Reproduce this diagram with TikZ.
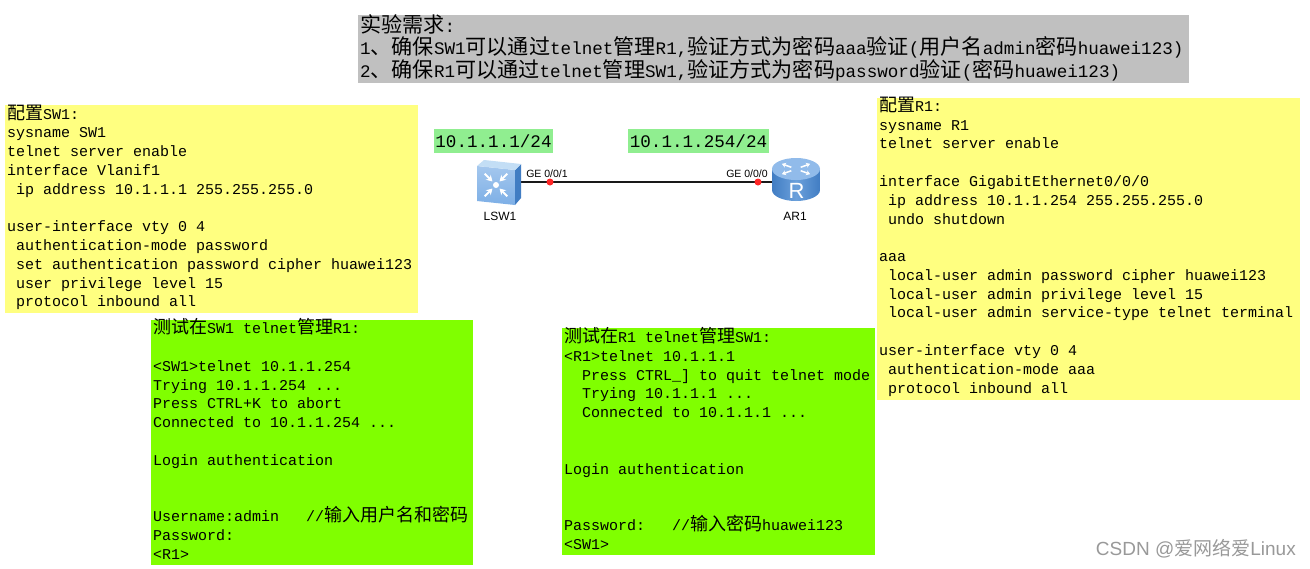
\documentclass[tikz,border=0pt]{standalone}
\usepackage{fontspec}
\setmonofont{Liberation Mono}
\setsansfont{Liberation Sans}
\newfontfamily\cjk{Noto Sans CJK SC}
\usetikzlibrary{positioning, arrows.meta}
\definecolor{notegray}{RGB}{192,192,192}
\definecolor{noteyellow}{RGB}{255,255,128}
\definecolor{notegreen}{RGB}{128,255,0}
\definecolor{iplabel}{RGB}{144,238,144}
\definecolor{iconlight}{RGB}{195,222,245}
\definecolor{iconmid}{RGB}{125,175,230}
\definecolor{icondark}{RGB}{65,125,195}
\newcommand{\zh}[1]{{\cjk\fontsize{18}{18}\selectfont #1}}
\newcommand{\zhbig}[1]{{\cjk\fontsize{21.1}{21.1}\selectfont #1}}
\newcommand{\monosize}[2]{\ttfamily\fontsize{#1}{#2}\selectfont\lineskiplimit=-30pt\relax}
\begin{document}
\begin{tikzpicture}[
  x=1pt, y=-1pt,
  note/.style={rectangle, anchor=north west, inner xsep=2pt, inner ysep=0pt, align=flush left, font=\monosize{15}{18.78}},
  iptag/.style={rectangle, fill=iplabel, minimum height=24pt, inner sep=0pt, font=\monosize{17.6}{20}},
  port/.style={font=\sffamily\fontsize{10.5}{12}\selectfont, inner sep=0pt},
  device/.style={font=\sffamily\fontsize{12}{14}\selectfont, inner sep=0pt},
  dot/.style={circle, fill=red!85!white, minimum size=7pt, inner sep=0pt},
  flow/.style={white, line width=1.8pt, -{Stealth[length=6pt, width=7pt]}},
]
\useasboundingbox[fill=white] (0,0) rectangle (1310,568);

% Backgrounds
\fill[notegray] (358,15) rectangle (1189,83);
\fill[noteyellow] (5,105) rectangle (418,313);
\fill[noteyellow] (877,98) rectangle (1300,400);
\fill[notegreen] (151,320) rectangle (473,565);
\fill[notegreen] (562,328) rectangle (875,555);

% Requirement
\node[note, text width=827pt, font=\monosize{17.6}{22.5}] (req) at (358,14)
  {\zhbig{实验需求}:\\
   1\zhbig{、确保}SW1\zhbig{可以通过}telnet\zhbig{管理}R1,\zhbig{验证方式为密码}aaa\zhbig{验证}(\zhbig{用户名}admin\zhbig{密码}huawei123)\\
   2\zhbig{、确保}R1\zhbig{可以通过}telnet\zhbig{管理}SW1,\zhbig{验证方式为密码}password\zhbig{验证}(\zhbig{密码}huawei123)};

% Configs
\node[note, text width=409pt] (cfgsw) at (5,104.4)
  {\zh{配置}SW1:\\
   sysname SW1\\
   telnet server enable\\
   interface Vlanif1\\
   \ ip address 10.1.1.1 255.255.255.0\\[18.78pt]
   user-interface vty 0 4\\
   \ authentication-mode password\\
   \ set authentication password cipher huawei123\\
   \ user privilege level 15\\
   \ protocol inbound all};
\node[note, text width=419pt] (cfgr) at (877,96.7)
  {\zh{配置}R1:\\
   sysname R1\\
   telnet server enable\\[18.78pt]
   interface GigabitEthernet0/0/0\\
   \ ip address 10.1.1.254 255.255.255.0\\
   \ undo shutdown\\[18.78pt]
   aaa\\
   \ local-user admin password cipher huawei123\\
   \ local-user admin privilege level 15\\
   \ local-user admin service-type telnet terminal\\[18.78pt]
   user-interface vty 0 4\\
   \ authentication-mode aaa\\
   \ protocol inbound all};

% Tests
\node[note, text width=318pt] (testsw) at (151,318.4)
  {\zh{测试在}SW1 telnet\zh{管理}R1:\\[18.78pt]
   <SW1>telnet 10.1.1.254\\
   Trying 10.1.1.254 ...\\
   Press CTRL+K to abort\\
   Connected to 10.1.1.254 ...\\[18.78pt]
   Login authentication\\[37.56pt]
   Username:admin\ \ \ //\zh{输入用户名和密码}\\
   Password:\\
   <R1>};
\node[note, text width=309pt] (testr) at (562,327.2)
  {\zh{测试在}R1 telnet\zh{管理}SW1:\\
   <R1>telnet 10.1.1.1\\
   \ \ Press CTRL\_] to quit telnet mode\\
   \ \ Trying 10.1.1.1 ...\\
   \ \ Connected to 10.1.1.1 ...\\[37.56pt]
   Login authentication\\[37.56pt]
   Password:\ \ \ //\zh{输入密码}huawei123\\
   <SW1>};

% Topology
\node[iptag, minimum width=119pt] (ipsw) at (493.5,141) {10.1.1.1/24};
\node[iptag, minimum width=141pt] (ipr) at (698.5,141) {10.1.1.254/24};
\coordinate (lsw) at (510,182);
\coordinate (ar) at (790,182);
\draw[line width=1.8pt, black!90] (lsw) -- (ar);
\node[dot] (dotsw) at (550,182) {};
\node[dot] (dotr) at (758,182) {};

% Switch icon
\shade[top color=iconmid!70!white, bottom color=iconmid] (477,166) -- (515,170) -- (515,205) -- (477,201) -- cycle;
\fill[icondark] (515,170) -- (521,164) -- (521,198) -- (515,205) -- cycle;
\fill[iconlight] (477,166) -- (484,160) -- (521,164) -- (515,170) -- cycle;
\foreach \a in {45,135,225,315} {
  \draw[flow, shift={(496,185)}] (\a:16) -- (\a:5);
}
\fill[white] (496,185) circle (3);

% Router icon
\shade[left color=icondark, right color=icondark, middle color=iconmid!70!icondark] (772,169) -- (772,190) arc[start angle=180, end angle=360, x radius=24, y radius=-11] -- (820,169) -- cycle;
\fill[iconmid!85!white] (796,169) ellipse (24 and 11);
\foreach \a in {20,160,200,340} {
  \draw[white, line width=1.5pt, shift={(796,169)}, -{Stealth[length=4pt, width=5pt]}] (\a:5) -- (\a:15);
}
\node[font=\sffamily\fontsize{22}{22}\selectfont, text=white, inner sep=0pt] (rmark) at (796.5,191) {R};

\node[port] (portsw) at (547,174) {GE 0/0/1};
\node[port] (portr) at (747,174) {GE 0/0/0};
\node[device] (namesw) at (500,216) {LSW1};
\node[device] (namer) at (795,216) {AR1};

% Watermark
\node[anchor=east, inner sep=0pt, text=black!40, font=\sffamily\fontsize{19}{20}\selectfont] (mark) at (1296,549) {CSDN @{\cjk 爱网络爱}Linux};
\end{tikzpicture}
\end{document}
